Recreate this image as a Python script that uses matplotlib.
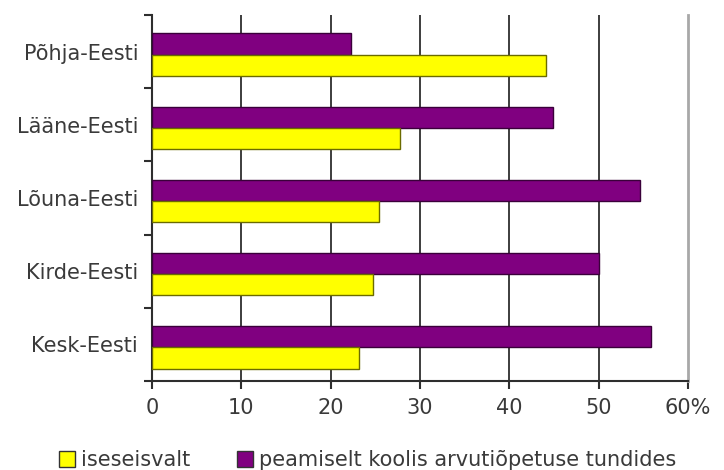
import numpy as np
import matplotlib.pyplot as plt
from matplotlib.patches import Patch

# Regions from top to bottom
regions = ['Põhja-Eesti', 'Lääne-Eesti', 'Lõuna-Eesti', 'Kirde-Eesti', 'Kesk-Eesti']
# Share of students (%)
iseseisvalt = [44.1, 27.8, 25.4, 24.8, 23.2]
koolis = [22.3, 44.9, 54.7, 50.1, 55.9]
xticks = [0, 10, 20, 30, 40, 50, 60]
xtick_labels = ['0', '10', '20', '30', '40', '50', '60%']

TEXT = '#3a3a3a'
PURPLE = '#800080'
YELLOW = '#ffff00'
FS = 15

plt.rcParams['font.family'] = ['DejaVu Sans']

fig = plt.figure(figsize=(7.24, 4.70), dpi=100)
ax = fig.add_axes([0.21, 0.1894, 0.74, 0.7786])

y = np.arange(len(regions))
h = 0.29
ax.barh(y - h / 2 + 0.04, koolis, height=h, color=PURPLE, edgecolor='#3a003a', linewidth=1, zorder=3)
ax.barh(y + h / 2 + 0.04, iseseisvalt, height=h, color=YELLOW, edgecolor='#6b6b00', linewidth=1, zorder=3)

ax.set_ylim(len(regions) - 0.5, -0.5)
ax.set_xlim(0, 60)

# vertical grid lines
for v in xticks[1:-1]:
    ax.axvline(v, color='#2e2e2e', linewidth=1.3, zorder=1)

ax.spines['top'].set_visible(False)
ax.spines['right'].set_color('#a8a8a8')
ax.spines['right'].set_linewidth(2)
ax.spines['left'].set_color('#2e2e2e')
ax.spines['left'].set_linewidth(1.5)
ax.spines['bottom'].set_color('#2e2e2e')
ax.spines['bottom'].set_linewidth(1.5)

ax.set_xticks(xticks)
ax.set_xticklabels(xtick_labels, fontsize=FS, color=TEXT)
ax.set_yticks(np.arange(len(regions) + 1) - 0.5, minor=False)
ax.set_yticklabels([])
ax.set_yticks(y, minor=True)
ax.set_yticklabels(regions, minor=True, fontsize=FS, color=TEXT)
ax.tick_params(axis='y', which='minor', length=0, pad=10)
ax.tick_params(axis='y', which='major', length=6, width=1.5, color='#2e2e2e')
ax.tick_params(axis='x', length=6, width=1.5, color='#2e2e2e', pad=6)

handles = [Patch(facecolor=YELLOW, edgecolor='#333333', label='iseseisvalt'),
           Patch(facecolor=PURPLE, edgecolor='#333333', label='peamiselt koolis arvutiõpetuse tundides')]
fig.legend(handles=handles, loc='lower left', bbox_to_anchor=(0.055, -0.04), ncol=2,
           frameon=False, fontsize=FS, labelcolor=TEXT, handlelength=0.8, handleheight=0.8,
           handletextpad=0.3, columnspacing=2.2)

fig.savefig('out.png', dpi=100)
